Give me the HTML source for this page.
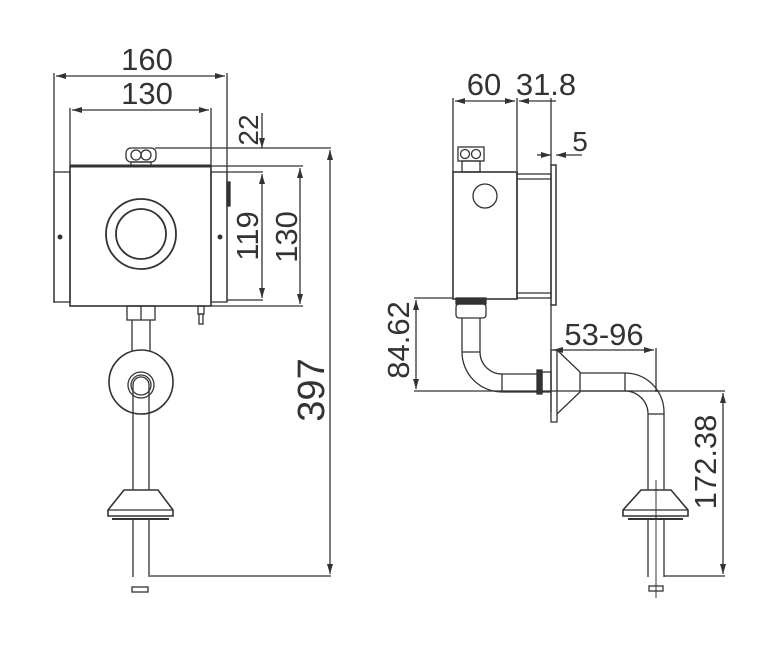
<!DOCTYPE html>
<html><head><meta charset="utf-8"><style>
html,body{margin:0;padding:0;background:#fff;}
svg{display:block}
text{font-family:"Liberation Sans",sans-serif;fill:#333;}
</style></head><body>
<svg width="778" height="645" viewBox="0 0 778 645" xmlns="http://www.w3.org/2000/svg">
<defs>
<marker id="a" viewBox="0 0 10 6" refX="10" refY="3" markerWidth="10" markerHeight="6" orient="auto-start-reverse" markerUnits="userSpaceOnUse"><path d="M0,0 L10,3 L0,6 z" fill="#333"/></marker>
</defs>
<g stroke="#333" stroke-width="1.3" fill="none">
<!-- FRONT VIEW -->
<line x1="54" y1="73" x2="54" y2="303"/>
<line x1="227" y1="73" x2="227" y2="302"/>
<line x1="56" y1="76" x2="225" y2="76" marker-start="url(#a)" marker-end="url(#a)"/>
<line x1="70" y1="108" x2="70" y2="166"/>
<line x1="211" y1="108" x2="211" y2="166"/>
<line x1="72" y1="110" x2="209" y2="110" marker-start="url(#a)" marker-end="url(#a)"/>
<rect x="54" y="172" width="16" height="130"/>
<rect x="211" y="172" width="16" height="130"/>
<rect x="70" y="166" width="141" height="140" stroke-width="1.6"/>
<line x1="70" y1="166" x2="211" y2="166" stroke-width="3"/>
<rect x="227" y="182" width="3" height="24" fill="#333"/>
<circle cx="141" cy="234" r="35" stroke-width="1.8"/>
<circle cx="141" cy="234" r="25" stroke-width="1.8"/>
<circle cx="60" cy="237" r="1.8" fill="#333"/>
<circle cx="220" cy="237" r="1.8" fill="#333"/>
<!-- top nut -->
<rect x="126" y="148" width="30" height="14" rx="5"/>
<circle cx="136" cy="155" r="5"/><circle cx="146" cy="155" r="5"/>
<rect x="131" y="162" width="20" height="4"/>
<!-- dims right -->
<line x1="155" y1="148" x2="331" y2="148"/>
<line x1="262" y1="113" x2="262" y2="148" marker-end="url(#a)"/>
<line x1="227" y1="172" x2="263" y2="172"/>
<line x1="227" y1="300" x2="263" y2="300"/>
<line x1="262" y1="174" x2="262" y2="298" marker-start="url(#a)" marker-end="url(#a)"/>
<line x1="211" y1="166" x2="303" y2="166"/>
<line x1="211" y1="306" x2="303" y2="306"/>
<line x1="300" y1="168" x2="300" y2="304" marker-start="url(#a)" marker-end="url(#a)"/>
<line x1="330" y1="150" x2="330" y2="574" marker-start="url(#a)" marker-end="url(#a)"/>
<line x1="150" y1="576" x2="331" y2="576"/>
<!-- below box -->
<rect x="198" y="306" width="6" height="8"/>
<rect x="199" y="314" width="4" height="10"/>
<rect x="127" y="306" width="28" height="14"/>
<line x1="141" y1="306" x2="141" y2="320"/>
<line x1="132" y1="320" x2="132" y2="351"/>
<line x1="150" y1="320" x2="150" y2="351"/>
<circle cx="141" cy="382" r="32" stroke-width="1.6"/>
<circle cx="141" cy="385" r="13"/>
<circle cx="141" cy="385" r="10"/>
<path d="M133,490 L133,385 A8,8 0 0 1 149,385 L149,490"/>
<path d="M124,490 L158,490 L173,510 L173,516 L108,516 L108,510 Z" stroke-width="1.6"/>
<line x1="108" y1="510" x2="173" y2="510"/>
<line x1="112" y1="519" x2="169" y2="519" stroke-width="2"/>
<line x1="133" y1="520" x2="133" y2="577"/>
<line x1="149" y1="520" x2="149" y2="577"/>
<rect x="132" y="587" width="16" height="5"/>

<!-- SIDE VIEW -->
<line x1="453" y1="98" x2="453" y2="172"/>
<line x1="517" y1="98" x2="517" y2="174"/>
<line x1="551" y1="98" x2="551" y2="165"/>
<line x1="455" y1="101" x2="515" y2="101" marker-start="url(#a)" marker-end="url(#a)"/>
<line x1="519" y1="101" x2="549" y2="101" marker-start="url(#a)"/>
<line x1="549" y1="101" x2="556" y2="101"/>
<rect x="453" y="172" width="64" height="127" stroke-width="1.6"/>
<rect x="458" y="147" width="26" height="14"/>
<circle cx="465" cy="154" r="4.5"/><circle cx="476" cy="154" r="4.5"/>
<rect x="462" y="161" width="18" height="11"/>
<circle cx="485" cy="196" r="12"/>
<rect x="517" y="174" width="34" height="124"/>
<line x1="517" y1="179" x2="551" y2="179"/>
<line x1="517" y1="293" x2="551" y2="293"/>
<rect x="551" y="165" width="5" height="140" stroke-width="1.5"/>
<line x1="551" y1="305" x2="551" y2="412"/>
<line x1="537" y1="155" x2="551" y2="155" marker-end="url(#a)"/>
<line x1="582" y1="155" x2="556" y2="155" marker-end="url(#a)"/>
<!-- 84.62 -->
<line x1="414" y1="298" x2="453" y2="298"/>
<line x1="414" y1="391" x2="725" y2="391"/>
<line x1="416" y1="300" x2="416" y2="389" marker-start="url(#a)" marker-end="url(#a)"/>
<!-- lower pipe -->
<rect x="456" y="298" width="30" height="6" fill="#333"/>
<rect x="456" y="304" width="30" height="14" rx="3"/>
<path d="M462,318 L462,352 A40,40 0 0 0 502,392 L537,392"/>
<path d="M480,318 L480,352 A22,22 0 0 0 502,374 L537,374"/>
<line x1="462" y1="352" x2="480" y2="352"/>
<line x1="502" y1="374" x2="502" y2="392"/>
<rect x="537" y="370" width="5" height="24" fill="#333"/>
<rect x="542" y="372" width="9" height="20"/>
<rect x="551" y="350" width="6" height="72"/>
<path d="M557,350 L580,372 L580,392 L557,414"/>
<!-- right pipe -->
<path d="M580,373 L625,373 A39,39 0 0 1 664,412 L664,490"/>
<path d="M580,391 L625,391 A23,23 0 0 1 648,414 L648,490"/>
<line x1="625" y1="373" x2="625" y2="391"/>
<line x1="648" y1="414" x2="664" y2="414"/>
<path d="M641,490 L671,490 L688,510 L688,516 L623,516 L623,510 Z" stroke-width="1.6"/>
<line x1="623" y1="510" x2="688" y2="510"/>
<line x1="628" y1="519" x2="683" y2="519" stroke-width="2"/>
<line x1="648" y1="520" x2="648" y2="577"/>
<line x1="664" y1="520" x2="664" y2="577"/>
<line x1="656" y1="480" x2="656" y2="598" stroke-width="1"/>
<rect x="649" y="586" width="14" height="5"/>
<!-- 53-96 -->
<line x1="656" y1="348" x2="656" y2="392"/>
<line x1="553" y1="350" x2="654" y2="350" marker-start="url(#a)" marker-end="url(#a)"/>
<!-- 172.38 -->
<line x1="664" y1="576" x2="725" y2="576"/>
<line x1="723" y1="393" x2="723" y2="574" marker-start="url(#a)" marker-end="url(#a)"/>
</g>
<g font-size="31">
<text x="147" y="70" text-anchor="middle">160</text>
<text x="147" y="104" text-anchor="middle">130</text>
<text transform="translate(258,130) rotate(-90)" text-anchor="middle" font-size="28">22</text>
<text transform="translate(258,236) rotate(-90)" text-anchor="middle">119</text>
<text transform="translate(297,237) rotate(-90)" text-anchor="middle">130</text>
<text transform="translate(324,390) rotate(-90)" text-anchor="middle" font-size="38">397</text>
<text x="484" y="95" text-anchor="middle">60</text>
<text x="546" y="95" text-anchor="middle">31.8</text>
<text x="580" y="151" text-anchor="middle" font-size="28">5</text>
<text transform="translate(409,340) rotate(-90)" text-anchor="middle">84.62</text>
<text x="604" y="345" text-anchor="middle">53-96</text>
<text transform="translate(716,462) rotate(-90)" text-anchor="middle">172.38</text>
</g>
</svg>
</body></html>
